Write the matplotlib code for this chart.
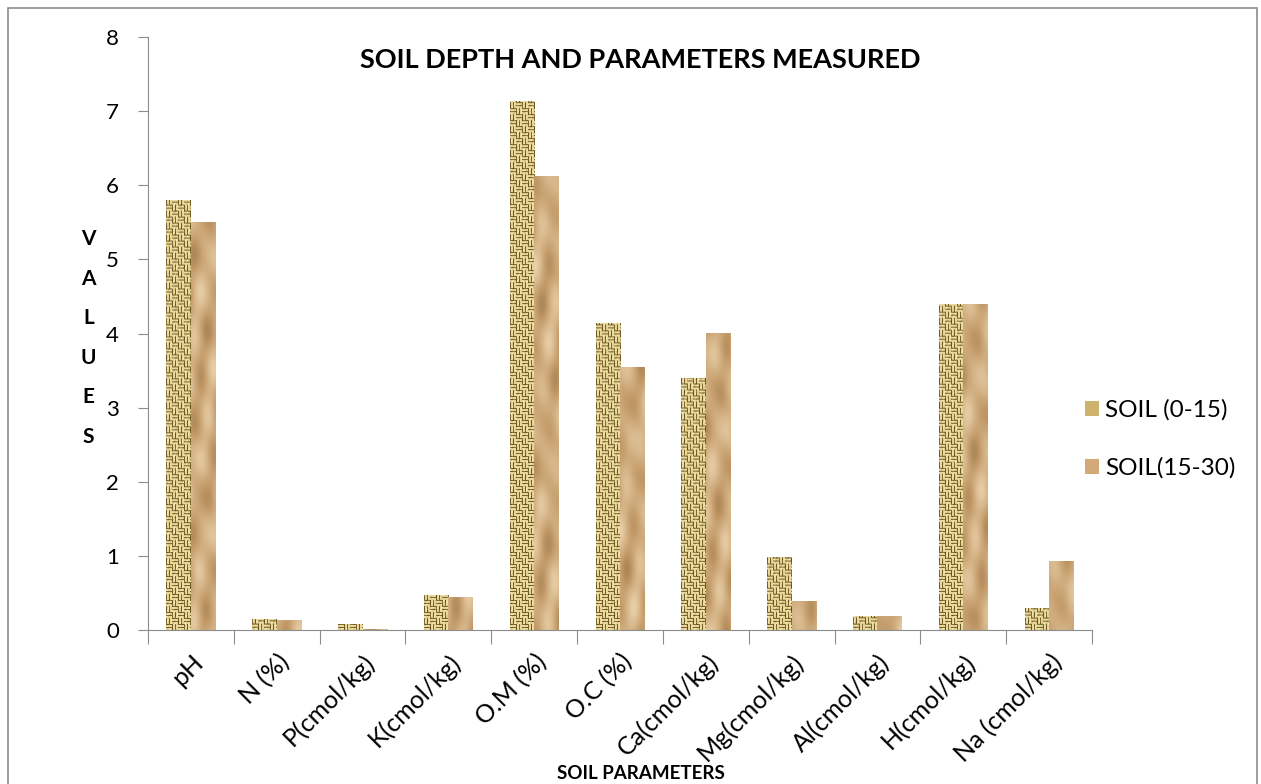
import numpy as np
import matplotlib.pyplot as plt
from matplotlib.patches import Rectangle
from matplotlib.colors import LinearSegmentedColormap

plt.rcParams['font.family'] = ['Lato', 'DejaVu Sans']

categories = ['pH', 'N (%)', 'P(cmol/kg)', 'K(cmol/kg)', 'O.M (%)', 'O.C (%)',
              'Ca(cmol/kg)', 'Mg(cmol/kg)', 'Al(cmol/kg)', 'H(cmol/kg)', 'Na (cmol/kg)']
soil_0_15 = [5.80, 0.15, 0.08, 0.47, 7.14, 4.14, 3.40, 0.99, 0.19, 4.40, 0.30]
soil_15_30 = [5.50, 0.13, 0.02, 0.44, 6.12, 3.55, 4.01, 0.39, 0.19, 4.40, 0.93]
series_labels = ['SOIL (0-15)', 'SOIL(15-30)']

YMAX = 8


def burlap_texture(ny, nx):
    # basket weave: blocks of horizontal and vertical strands
    yy, xx = np.mgrid[0:ny, 0:nx]
    blk = ((yy // 6) + (xx // 6)) % 2
    horiz = (yy % 3 == 0)
    vert = (xx % 3 == 0)
    gap = np.where(blk == 0, horiz, vert)
    val = np.where(gap, 0.15, 0.9)
    val = val + 0.1 * np.sin(xx * 1.3 + yy * 0.7) * np.cos(yy * 0.45)
    return np.clip(val, 0, 1)


def paper_texture(ny, nx, phase):
    # smooth folds for a crumpled paper look
    yy, xx = np.mgrid[0:ny, 0:nx].astype(float)
    v = (np.sin(0.045 * yy + 0.21 * xx + phase)
         + 0.7 * np.sin(0.11 * yy - 0.17 * xx + 2.1 * phase)
         + 0.5 * np.sin(0.023 * yy + 0.31 * xx + 0.6 * phase)
         + 0.4 * np.cos(0.071 * yy + 0.09 * xx - phase))
    v = (v - v.min()) / (v.max() - v.min())
    return 0.35 + 0.6 * v


burlap_cmap = LinearSegmentedColormap.from_list('burlap', ['#5a4518', '#b8a05a', '#f4e6aa'])
paper_cmap = LinearSegmentedColormap.from_list('paper', ['#7c5a34', '#c29a68', '#ecd3ad'])

fig = plt.figure(figsize=(12.61, 7.84), dpi=100)
ax = fig.add_axes([0.1174, 0.1964, 0.7486, 0.7564])

# chart frame around the whole figure
fig.patches.append(Rectangle((0.006, -0.05), 0.991, 1.04, transform=fig.transFigure,
                             fill=False, edgecolor='#8c8c8c', linewidth=1.2))

x = np.arange(len(categories))
w = 0.285
bars1 = ax.bar(x - w / 2, soil_0_15, w, facecolor='#cdb36c', linewidth=0,
               label=series_labels[0])
bars2 = ax.bar(x + w / 2, soil_15_30, w, facecolor='#d2aa78', linewidth=0,
               label=series_labels[1])

for i, bar in enumerate(bars1):
    bx = bar.get_x()
    im = ax.imshow(burlap_texture(594, 25), cmap=burlap_cmap, vmin=0, vmax=1,
                   extent=[bx, bx + bar.get_width(), 0, YMAX], aspect='auto',
                   interpolation='bilinear', zorder=2)
    im.set_clip_path(bar)
for i, bar in enumerate(bars2):
    bx = bar.get_x()
    im = ax.imshow(paper_texture(600, 25, 0.9 * i), cmap=paper_cmap, vmin=0, vmax=1,
                   extent=[bx, bx + bar.get_width(), 0, YMAX], aspect='auto',
                   interpolation='bilinear', zorder=2)
    im.set_clip_path(bar)

ax.set_xlim(-0.5, len(categories) - 0.5)
ax.set_ylim(0, YMAX)
ax.set_aspect('auto')
ax.set_yticks(range(0, YMAX + 1))
ax.tick_params(axis='y', labelsize=16, length=7, color='#8c8c8c', pad=14)

# category ticks sit on group boundaries
ax.set_xticks(np.arange(-0.5, len(categories)))
ax.set_xticklabels([])
ax.tick_params(axis='x', length=10, color='#8c8c8c', direction='out')
for xi, lab in zip(x, categories):
    ax.text(xi + 0.1, -0.38, lab, rotation=45, ha='right', va='center',
            rotation_mode='anchor', fontsize=18)

for s in ['top', 'right']:
    ax.spines[s].set_visible(False)
for s in ['left', 'bottom']:
    ax.spines[s].set_color('#8c8c8c')

fig.text(0.508, 0.923, 'SOIL DEPTH AND PARAMETERS MEASURED', ha='center', va='center',
         fontsize=19.5, fontweight='bold')
for i, ch in enumerate('VALUES'):
    fig.text(0.07, 0.695 - i * 0.0505, ch, ha='center', va='center',
             fontsize=15, fontweight='bold')
fig.text(0.508, 0.014, 'SOIL PARAMETERS', ha='center', va='center',
         fontsize=13.5, fontweight='bold')

ax.legend(loc='center left', bbox_to_anchor=(0.982, 0.322), frameon=False,
          fontsize=17.5, handlelength=0.6, handleheight=0.6, labelspacing=1.5,
          handletextpad=0.25, borderaxespad=0)

fig.savefig('out.png', dpi=100)
